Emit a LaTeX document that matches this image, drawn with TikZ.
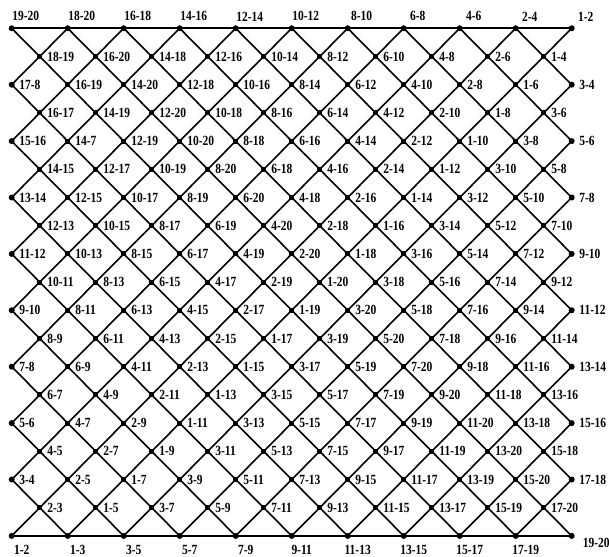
\documentclass[tikz,border=0pt]{standalone}
\usepackage{fontspec}
\newfontfamily\labfont{Liberation Serif Bold}[FakeStretch=0.82]
\usetikzlibrary{backgrounds}

\begin{document}
\begin{tikzpicture}[x=1pt, y=-1pt,
  sqk/.style={fill, rectangle, inner sep=0pt, minimum size=5pt},
  bdot/.style={fill, circle, inner sep=0pt, minimum size=6pt},
  vtx/.code={\ifnum#1=1\relax\tikzset{bdot}\else\tikzset{sqk}\fi},
  lbl/.style={font=\labfont\fontsize{14}{16}\selectfont, inner sep=1pt},
  ln/.style={line width=1.6pt},
  hln/.style={line width=2pt}]
\useasboundingbox (0,0) rectangle (609,556);

% lattice points, one list per row
\foreach \labs [count=\lev from 0] in {
  {19-20,18-20,16-18,14-16,12-14,10-12,8-10,6-8,4-6,2-4,1-2},
  {18-19,16-20,14-18,12-16,10-14,8-12,6-10,4-8,2-6,1-4},
  {17-8,16-19,14-20,12-18,10-16,8-14,6-12,4-10,2-8,1-6,3-4},
  {16-17,14-19,12-20,10-18,8-16,6-14,4-12,2-10,1-8,3-6},
  {15-16,14-7,12-19,10-20,8-18,6-16,4-14,2-12,1-10,3-8,5-6},
  {14-15,12-17,10-19,8-20,6-18,4-16,2-14,1-12,3-10,5-8},
  {13-14,12-15,10-17,8-19,6-20,4-18,2-16,1-14,3-12,5-10,7-8},
  {12-13,10-15,8-17,6-19,4-20,2-18,1-16,3-14,5-12,7-10},
  {11-12,10-13,8-15,6-17,4-19,2-20,1-18,3-16,5-14,7-12,9-10},
  {10-11,8-13,6-15,4-17,2-19,1-20,3-18,5-16,7-14,9-12},
  {9-10,8-11,6-13,4-15,2-17,1-19,3-20,5-18,7-16,9-14,11-12},
  {8-9,6-11,4-13,2-15,1-17,3-19,5-20,7-18,9-16,11-14},
  {7-8,6-9,4-11,2-13,1-15,3-17,5-19,7-20,9-18,11-16,13-14},
  {6-7,4-9,2-11,1-13,3-15,5-17,7-19,9-20,11-18,13-16},
  {5-6,4-7,2-9,1-11,3-13,5-15,7-17,9-19,11-20,13-18,15-16},
  {4-5,2-7,1-9,3-11,5-13,7-15,9-17,11-19,13-20,15-18},
  {3-4,2-5,1-7,3-9,5-11,7-13,9-15,11-17,13-19,15-20,17-18},
  {2-3,1-5,3-7,5-9,7-11,9-13,11-15,13-17,15-19,17-20},
  {1-2,1-3,3-5,5-7,7-9,9-11,11-13,13-15,15-17,17-19,19-20}} {
  \foreach \lab [count=\col from 0] in \labs {
    \pgfmathsetmacro\xx{11.7+28*mod(\lev,2)+56*\col}
    \pgfmathsetmacro\yy{28.3+28.2*\lev}
    \pgfmathtruncatemacro\bnd{or(or(\lev==0,\lev==18),and(iseven(\lev),or(\col==0,\col==10)))}
    \node[vtx=\bnd] (n-\lev-\col) at (\xx,\yy) {};
    \ifnum\lev=0
      \node[lbl, anchor=south] (t-\lev-\col) at ([shift={(14,-6)}]n-\lev-\col.center) {\lab};
    \else
      \ifnum\lev=18
        \ifnum\col=10
          \node[lbl, anchor=west] (t-\lev-\col) at ([shift={(10,7)}]n-\lev-\col.center) {\lab};
        \else
          \node[lbl, anchor=north] (t-\lev-\col) at ([shift={(10,8)}]n-\lev-\col.center) {\lab};
        \fi
      \else
        \node[lbl, anchor=west] (t-\lev-\col) at ([shift={(6.5,0)}]n-\lev-\col.center) {\lab};
      \fi
    \fi
  }
}

% diagonals through every odd row, and the two rails
\begin{scope}[on background layer]
\foreach \lev in {1,3,...,17} {
  \pgfmathtruncatemacro\up{\lev-1}
  \pgfmathtruncatemacro\dn{\lev+1}
  \foreach \col in {0,...,9} {
    \pgfmathtruncatemacro\nx{\col+1}
    \draw[ln] (n-\up-\col.center) -- (n-\lev-\col.center) -- (n-\dn-\nx.center);
    \draw[ln] (n-\up-\nx.center) -- (n-\lev-\col.center) -- (n-\dn-\col.center);
  }
}
\draw[hln] (n-0-0.center) -- (n-0-10.center);
\draw[hln] (n-18-0.center) -- (n-18-10.center);
\end{scope}
\end{tikzpicture}
\end{document}
